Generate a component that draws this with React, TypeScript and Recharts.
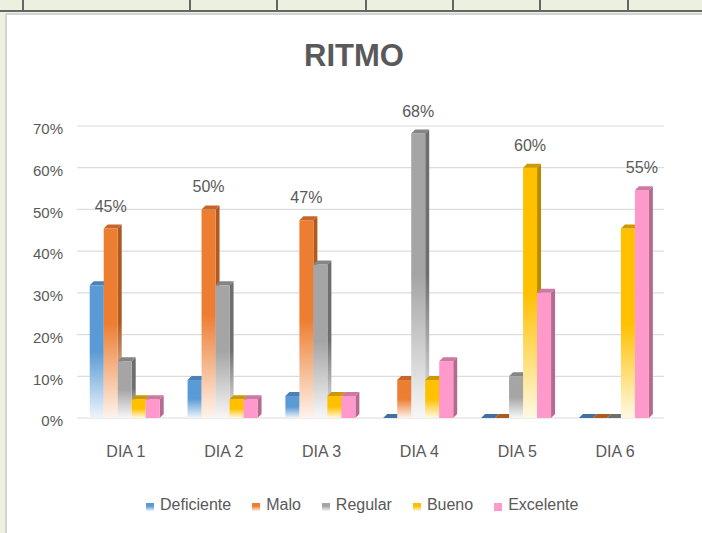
import { BarChart, Bar, XAxis, YAxis, CartesianGrid, Legend, LabelList } from 'recharts'

const categories = ['DIA 1', 'DIA 2', 'DIA 3', 'DIA 4', 'DIA 5', 'DIA 6']
const deficiente = [31.8, 9.1, 5.3, 0, 0, 0]
const malo = [45.4, 50, 47.4, 9.1, 0, 0]
const regular = [13.6, 31.8, 36.8, 68.2, 10, 0]
const bueno = [4.5, 4.5, 5.3, 9.1, 60, 45.4]
const excelente = [4.5, 4.5, 5.3, 13.6, 30, 54.6]
const yTicks = [0, 10, 20, 30, 40, 50, 60, 70]

const FONT = '"Liberation Sans", Arial, sans-serif'
const TEXT = '#595959'

const SERIES = [
  { key: 'deficiente', name: 'Deficiente', front: '#5B9BD5', pale: '#EEF5FC', side: '#3F72A3', top: '#4A82B8' },
  { key: 'malo', name: 'Malo', front: '#ED7D31', pale: '#FEF3EC', side: '#AE5A21', top: '#C4682A' },
  { key: 'regular', name: 'Regular', front: '#A5A5A5', pale: '#F7F7F7', side: '#6E6E6E', top: '#858585' },
  { key: 'bueno', name: 'Bueno', front: '#FFC000', pale: '#FFF9E3', side: '#B88A00', top: '#CC9A00' },
  { key: 'excelente', name: 'Excelente', front: '#FF99CC', pale: '#FF99CC', side: '#B46B90', top: '#CC7AA3' },
]

const data = categories.map((name, i) => ({
  name,
  deficiente: deficiente[i],
  malo: malo[i],
  regular: regular[i],
  bueno: bueno[i],
  excelente: excelente[i],
}))

const maxes = categories.map((_, i) =>
  Math.max(deficiente[i], malo[i], regular[i], bueno[i], excelente[i])
)

const DEPTH = 4

function Bar3D(props: any) {
  const { x, y, width, height, s } = props
  const d = DEPTH
  const w = width
  const h = Math.max(height || 0, 0)
  const topFace = `${x},${y} ${x + d},${y - d} ${x + w + d},${y - d} ${x + w},${y}`
  if (h <= 0.5) {
    return <polygon points={topFace} fill={s.side} />
  }
  const sideFace = `${x + w},${y} ${x + w + d},${y - d} ${x + w + d},${y + h - d} ${x + w},${y + h}`
  return (
    <g>
      <polygon points={sideFace} fill={`url(#side-${s.key})`} />
      <rect x={x} y={y} width={w} height={h} fill={`url(#front-${s.key})`} />
      <polygon points={topFace} fill={s.top} />
    </g>
  )
}

const renderTopLabel = (p: any) => {
  const { x, y, width, value, index } = p
  if (value !== maxes[index]) return null
  return (
    <text x={x + width / 2} y={y - 17} textAnchor="middle" fill={TEXT} fontSize={16} fontFamily={FONT}>
      {Math.round(value)}%
    </text>
  )
}

const renderLegend = () => (
  <div style={{ display: 'flex', alignItems: 'center', fontFamily: FONT, fontSize: 16, color: TEXT, lineHeight: '18px' }}>
    {SERIES.map((s) => (
      <div key={s.key} style={{ display: 'flex', alignItems: 'center', marginRight: 21 }}>
        <span
          style={{
            width: 8,
            height: 8,
            marginRight: 6,
            marginTop: 3,
            background: `linear-gradient(${s.front}, ${s.front} 40%, ${s.pale})`,
          }}
        />
        <span>{s.name}</span>
      </div>
    ))}
  </div>
)

const sheetLines = [22, 189, 276, 365, 452, 539, 627]

export default function App() {
  return (
    <div style={{ position: 'fixed', left: 0, top: 0, width: 702, height: 533, background: '#EBF1DE', overflow: 'hidden' }}>
      <div style={{ position: 'absolute', left: 0, top: 10, width: 702, height: 2, background: '#666' }} />
      {sheetLines.map((lx) => (
        <div key={lx} style={{ position: 'absolute', left: lx, top: 0, width: 2, height: 11, background: '#666' }} />
      ))}
      <div
        style={{
          position: 'absolute',
          left: 5,
          top: 13,
          width: 710,
          height: 540,
          background: '#fff',
          borderLeft: '2px solid #D4D4D4',
          borderTop: '2px solid #D4D4D4',
        }}
      />
      <div
        style={{
          position: 'absolute',
          left: 0,
          top: 38,
          width: 708,
          textAlign: 'center',
          fontFamily: FONT,
          fontWeight: 'bold',
          fontSize: 31,
          lineHeight: '36px',
          color: TEXT,
        }}
      >
        RITMO
      </div>
      <div style={{ position: 'absolute', left: 0, top: 0 }}>
        <BarChart
          width={702}
          height={533}
          data={data}
          margin={{ top: 126, right: 38, left: 5, bottom: 85 }}
          barCategoryGap="13%"
          barGap={0}
        >
          <defs>
            {SERIES.map((s) => (
              <linearGradient key={`f-${s.key}`} id={`front-${s.key}`} x1="0" y1="0" x2="0" y2="1">
                <stop offset="0" stopColor={s.front} />
                <stop offset="0.5" stopColor={s.front} />
                <stop offset="1" stopColor={s.pale} />
              </linearGradient>
            ))}
            {SERIES.map((s) => (
              <linearGradient key={`s-${s.key}`} id={`side-${s.key}`} x1="0" y1="0" x2="0" y2="1">
                <stop offset="0" stopColor={s.side} />
                <stop offset="0.5" stopColor={s.side} />
                <stop offset="1" stopColor={s.key === 'excelente' ? s.side : '#EDEDED'} />
              </linearGradient>
            ))}
          </defs>
          <CartesianGrid horizontal vertical={false} stroke="#DCDCDC" strokeWidth={1.2} />
          <XAxis
            dataKey="name"
            axisLine={false}
            tickLine={false}
            tickSize={0}
            tickMargin={28}
            tick={{ fill: TEXT, fontSize: 16, fontFamily: FONT }}
          />
          <YAxis
            domain={[0, 70]}
            ticks={yTicks}
            interval={0}
            width={72}
            axisLine={false}
            tickLine={false}
            tickSize={0}
            tickMargin={14}
            tickFormatter={(v: number) => `${v}%`}
            tick={{ fill: TEXT, fontSize: 15, fontFamily: FONT, dy: 3 }}
          />
          <Legend
            layout="horizontal"
            verticalAlign="middle"
            align="center"
            wrapperStyle={{ top: 496, left: 146, width: 520 }}
            content={renderLegend}
          />
          {SERIES.map((s) => (
            <Bar
              key={s.key}
              dataKey={s.key}
              name={s.name}
              fill={s.front}
              isAnimationActive={false}
              shape={(p: any) => <Bar3D {...p} s={s} />}
            >
              <LabelList dataKey={s.key} content={renderTopLabel} />
            </Bar>
          ))}
        </BarChart>
      </div>
    </div>
  )
}
